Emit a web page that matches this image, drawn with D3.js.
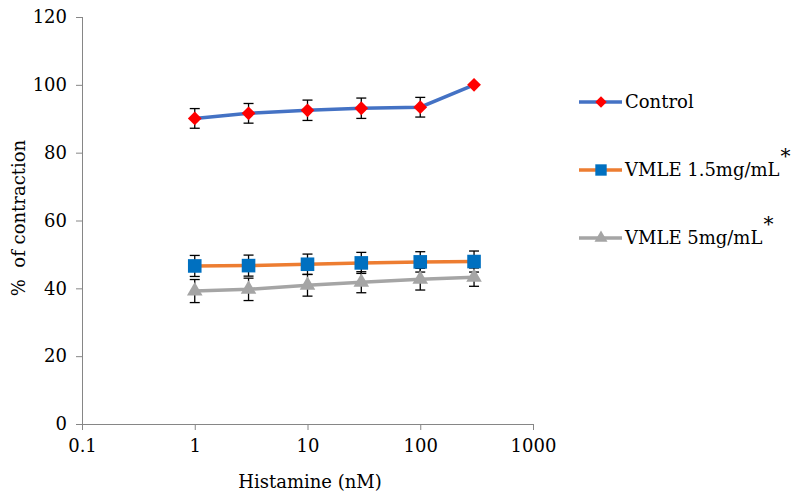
<!DOCTYPE html>
<html>
<head>
<meta charset="utf-8">
<script src="https://cdn.jsdelivr.net/npm/d3@7"></script>
<style>
  body { margin: 0; background: #fff; }
  text { font-family: "DejaVu Serif", serif; fill: #000; }
</style>
</head>
<body>
<svg></svg>
<script>
//SET UP THE CANVAS
var w = 794;
var h = 503;

var svg = d3.select("svg")
     .attr("width", w)
     .attr("height", h);

//DATA
var doses = [1, 3, 10, 30, 100, 300];
var control = [90.1, 91.6, 92.5, 93.1, 93.4, 100];
var controlErr = [2.9, 2.9, 3.0, 3.0, 2.9, 0];
var vmle15 = [46.6, 46.7, 47.1, 47.5, 47.8, 47.9];
var vmle15Err = [3.1, 3.1, 3.0, 3.1, 3.0, 3.1];
var vmle5 = [39.2, 39.7, 40.9, 41.8, 42.7, 43.3];
var vmle5Err = [3.4, 3.3, 3.2, 3.1, 3.2, 2.7];
var seriesNames = ["Control", "VMLE 1.5mg/mL", "VMLE 5mg/mL"];
var xTicks = [0.1, 1, 10, 100, 1000];
var yTicks = [0, 20, 40, 60, 80, 100, 120];

//SCALES
var xScale = d3.scaleLog()
     .domain([0.1, 1000])
     .range([82, 533]);
var yScale = d3.scaleLinear()
     .domain([0, 120])
     .range([424, 17]);

var fs = 18;

//AXES
var axisColor = "#868686";
var yAxis = svg.append("g")
     .attr("transform", "translate(82,0)")
     .call(d3.axisLeft(yScale).tickValues(yTicks).tickSize(6).tickPadding(9).tickFormat(d3.format("d")));
var xAxis = svg.append("g")
     .attr("transform", "translate(0,424)")
     .call(d3.axisBottom(xScale).tickValues(xTicks).tickSize(6).tickPadding(9)
          .tickFormat(function (d) { return d < 1 ? "0.1" : d3.format("d")(d); }));
[xAxis, yAxis].forEach(function (ax) {
     ax.select(".domain").attr("stroke", axisColor).attr("stroke-width", 1);
     ax.selectAll(".tick line").attr("stroke", axisColor);
     ax.selectAll("text").attr("font-size", fs).attr("font-family", "DejaVu Serif");
});
xAxis.select(".domain").attr("d", "M76,0.5H533");
yAxis.select(".domain").attr("d", "M0.5,17V424");

svg.append("text")
     .attr("x", 310)
     .attr("y", 488)
     .attr("text-anchor", "middle")
     .attr("font-size", fs)
     .text("Histamine (nM)");
svg.append("text")
     .attr("transform", "translate(25,218) rotate(-90)")
     .attr("text-anchor", "middle")
     .attr("font-size", fs)
     .attr("xml:space", "preserve")
     .text("%  of contraction");

//SERIES
var diamond = d3.symbolSquare;
var series = [
     { name: seriesNames[0], vals: control, err: controlErr, line: "#4472C4", marker: "#FF0000", shape: diamond, size: 95, rot: 45 },
     { name: seriesNames[1], vals: vmle15, err: vmle15Err, line: "#ED7D31", marker: "#0070C0", shape: d3.symbolSquare, size: 185, rot: 0 },
     { name: seriesNames[2], vals: vmle5, err: vmle5Err, line: "#A5A5A5", marker: "#A5A5A5", shape: d3.symbolTriangle, size: 105, rot: 0 }
];

var lineMaker = d3.line()
     .x(function (d, i) { return xScale(doses[i]); })
     .y(function (d) { return yScale(d); });

// lines, then error bars, then markers on top
series.forEach(function (s) {
     svg.append("path")
          .attr("d", lineMaker(s.vals))
          .attr("fill", "none")
          .attr("stroke", s.line)
          .attr("stroke-width", 3.5);
});

series.forEach(function (s) {
     var g = svg.append("g").attr("stroke", "#000").attr("stroke-width", 1.3);
     s.vals.forEach(function (v, i) {
          if (s.err[i] <= 0) return;
          var x = xScale(doses[i]);
          var y0 = yScale(v - s.err[i]);
          var y1 = yScale(v + s.err[i]);
          g.append("line").attr("x1", x).attr("x2", x).attr("y1", y0).attr("y2", y1);
          g.append("line").attr("x1", x - 5).attr("x2", x + 5).attr("y1", y0).attr("y2", y0);
          g.append("line").attr("x1", x - 5).attr("x2", x + 5).attr("y1", y1).attr("y2", y1);
     });
});

series.forEach(function (s) {
     svg.selectAll(null)
          .data(s.vals)
          .enter()
          .append("path")
          .attr("d", d3.symbol().type(s.shape).size(s.size))
          .attr("transform", function (d, i) {
               return "translate(" + xScale(doses[i]) + "," + yScale(d) + ") rotate(" + s.rot + ")";
          })
          .attr("fill", s.marker);
});

//LEGEND
var legendY = [102, 170, 238];
series.forEach(function (s, i) {
     var y = legendY[i];
     svg.append("line")
          .attr("x1", 579).attr("x2", 622)
          .attr("y1", y).attr("y2", y)
          .attr("stroke", s.line)
          .attr("stroke-width", 3.5);
     svg.append("path")
          .attr("d", d3.symbol().type(s.shape).size(s.size * 0.7))
          .attr("transform", "translate(601," + y + ") rotate(" + s.rot + ")")
          .attr("fill", s.marker);
     var t = svg.append("text")
          .attr("x", 625)
          .attr("y", y + 6)
          .attr("font-size", fs)
          .text(s.name);
     if (i > 0) {
          t.append("tspan")
               .attr("dy", -13)
               .attr("dx", 1)
               .attr("font-size", 20)
               .text("*");
     }
});
</script>
</body>
</html>
